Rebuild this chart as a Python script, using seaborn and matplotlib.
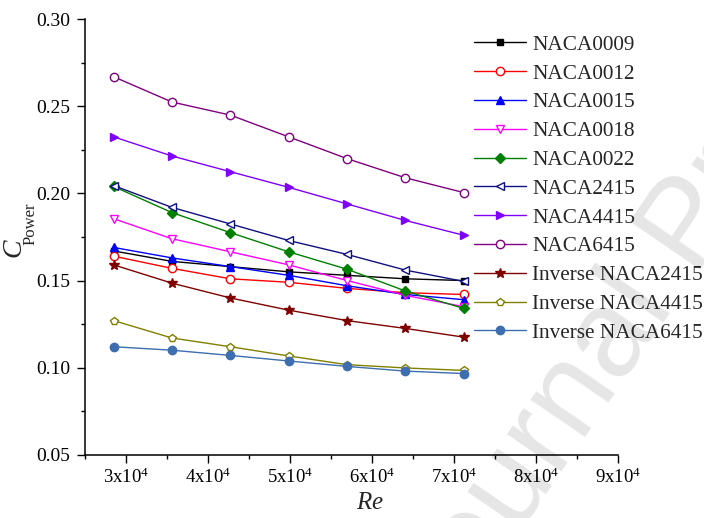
import pandas as pd
import matplotlib
matplotlib.use('Agg')
import matplotlib.pyplot as plt
import seaborn as sns
from matplotlib.ticker import MultipleLocator, FixedLocator, FixedFormatter

# Reynolds numbers and power coefficients
re_values = [28460, 35570, 42690, 49800, 56920, 64030, 71150]

naca0009 = [0.167, 0.161, 0.158, 0.155, 0.153, 0.151, 0.150]
naca0012 = [0.164, 0.157, 0.151, 0.149, 0.1455, 0.143, 0.142]
naca0015 = [0.169, 0.163, 0.158, 0.153, 0.147, 0.142, 0.139]
naca0018 = [0.1855, 0.174, 0.1665, 0.159, 0.150, 0.1415, 0.135]
naca0022 = [0.204, 0.189, 0.1775, 0.1665, 0.1565, 0.144, 0.134]
naca2415 = [0.2045, 0.192, 0.1825, 0.173, 0.165, 0.156, 0.1495]
naca4415 = [0.2325, 0.2215, 0.2125, 0.2035, 0.194, 0.1845, 0.176]
naca6415 = [0.267, 0.2525, 0.245, 0.2325, 0.220, 0.209, 0.2005]
inv_naca2415 = [0.159, 0.1485, 0.140, 0.133, 0.127, 0.1225, 0.1175]
inv_naca4415 = [0.127, 0.117, 0.112, 0.1067, 0.1017, 0.0998, 0.0984]
inv_naca6415 = [0.112, 0.110, 0.107, 0.1038, 0.1007, 0.098, 0.0966]

labels = ['NACA0009', 'NACA0012', 'NACA0015', 'NACA0018', 'NACA0022',
          'NACA2415', 'NACA4415', 'NACA6415', 'Inverse NACA2415',
          'Inverse NACA4415', 'Inverse NACA6415']
series = [naca0009, naca0012, naca0015, naca0018, naca0022, naca2415,
          naca4415, naca6415, inv_naca2415, inv_naca4415, inv_naca6415]

# (colour, marker, filled)
styles = [
    ('#000000', 's', True),
    ('#ff0000', 'o', False),
    ('#0000ff', '^', True),
    ('#ff00ff', 'v', False),
    ('#008000', 'D', True),
    ('#101080', '<', False),
    ('#8000ff', '>', True),
    ('#800080', 'o', False),
    ('#800000', '*', True),
    ('#808000', 'p', False),
    ('#3d6eb0', 'o', True),
]

sns.set_style('ticks')
plt.rcParams['font.family'] = ['Liberation Serif', 'DejaVu Serif']
plt.rcParams['mathtext.fontset'] = 'custom'
plt.rcParams['mathtext.rm'] = 'Liberation Serif'
plt.rcParams['mathtext.it'] = 'Liberation Serif:italic'

fig = plt.figure(figsize=(7.04, 5.18), dpi=100)
ax = fig.add_axes([85.3 / 704, 1 - 454.7 / 518, 533 / 704, 435.4 / 518])
ax.set_facecolor('none')

# faint diagonal watermark behind the plot
fig.text(690 / 704, 1 - 228 / 518, 'Journal Pre-proof', rotation=55.6,
         ha='center', va='center', rotation_mode='anchor', fontsize=90,
         family='Liberation Sans', color='#e6e6e6', zorder=-5)

for name, vals, (col, mk, filled) in zip(labels, series, styles):
    df = pd.DataFrame({'Re': re_values, 'Cp': vals})
    ms = 7.5 if mk == '*' else (5 if mk in ('D', 's') else 6)
    sns.lineplot(data=df, x='Re', y='Cp', ax=ax, color=col, lw=1.0,
                 marker=mk, markersize=ms, markeredgewidth=1.0,
                 markeredgecolor=col,
                 markerfacecolor=col if filled else 'white',
                 label=name, legend=False)

ax.set_xlim(25000, 90000)
ax.set_ylim(0.05, 0.30)

xt = [30000, 40000, 50000, 60000, 70000, 80000, 90000]
ax.xaxis.set_major_locator(FixedLocator(xt))
ax.xaxis.set_major_formatter(FixedFormatter(['%dx10$^{4}$' % (v // 10000) for v in xt]))
ax.xaxis.set_minor_locator(MultipleLocator(5000))
ax.yaxis.set_major_locator(MultipleLocator(0.05))
ax.yaxis.set_minor_locator(MultipleLocator(0.025))
ax.yaxis.set_major_formatter(matplotlib.ticker.FormatStrFormatter('%.2f'))

ax.tick_params(which='major', direction='out', length=6, width=1.0,
               labelsize=14, color='black', labelcolor='black')
ax.tick_params(axis='x', which='major', labelsize=13.5, pad=3)
ax.tick_params(axis='y', which='major', pad=5)
ax.tick_params(which='minor', direction='out', length=3, width=1.0, color='black')

sns.despine(ax=ax)
for sp in ['left', 'bottom']:
    ax.spines[sp].set_linewidth(1.1)
    ax.spines[sp].set_color('black')

ax.set_xlabel('$Re$', fontsize=18)
ax.xaxis.set_label_coords((370 - 85.3) / 533, -0.085)

# y label: italic C with a dropped upright "Power" subscript
ax.set_ylabel('')
fig.text(14 / 704, 1 - 248 / 518, 'C', rotation=90, style='italic',
         fontsize=20, ha='center', va='center')
fig.text(31 / 704, 1 - 223.5 / 518, 'Power', rotation=90,
         fontsize=12, ha='center', va='center')

handles, lbls = ax.get_legend_handles_labels()
fig.legend(handles, lbls, loc='upper left', bbox_to_anchor=(474 / 704, 1 - 35 / 518),
           frameon=False, fontsize=15.3, handlelength=2.45, handletextpad=0.3,
           labelspacing=0.42, borderpad=0, borderaxespad=0)

fig.savefig('out.png', dpi=100)
